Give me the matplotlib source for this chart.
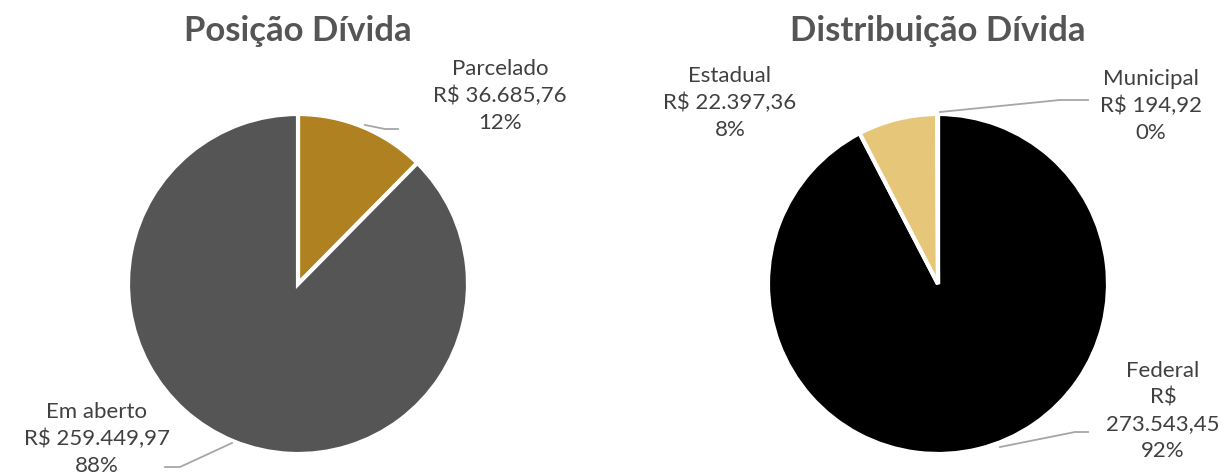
import matplotlib
matplotlib.use("Agg")
import matplotlib.pyplot as plt
import numpy as np

plt.rcParams['font.family'] = ['Lato', 'DejaVu Sans']

left_title = "Posição Dívida"
left_labels = ["Parcelado", "Em aberto"]
left_values = [36685.76, 259449.97]
left_text = ["R$ 36.685,76", "R$ 259.449,97"]
left_pct = ["12%", "88%"]
left_colors = ["#B08121", "#555555"]

right_title = "Distribuição Dívida"
right_labels = ["Federal", "Estadual", "Municipal"]
right_values = [273543.45, 22397.36, 194.92]
right_text = ["R$\n273.543,45", "R$ 22.397,36", "R$ 194,92"]
right_pct = ["92%", "8%", "0%"]
right_colors = ["#000000", "#E6C678", "#D9D9D9"]

W, H = 1229, 476
fig = plt.figure(figsize=(W/100, H/100), dpi=100)
R = 170
txtc = "#404040"

def px2data(cx, cy, x, y):
    return (x - cx) / R, (cy - y) / R

def make_pie(cx, cy, values, colors, title):
    ax = fig.add_axes([(cx - R) / W, (H - cy - R) / H, 2 * R / W, 2 * R / H])
    wedges, _ = ax.pie(values, colors=colors, startangle=90, counterclock=False,
                       radius=1, wedgeprops=dict(edgecolor="white", linewidth=3))
    ax.set_xlim(-1, 1); ax.set_ylim(-1, 1)
    ax.set_aspect("equal"); ax.axis("off")
    fig.text(cx / W, 1 - 31 / H, title, ha="center", va="center",
             fontsize=25, fontweight="bold", color="#555555")
    return ax, wedges

FS = 16
LS = 1.42

axL, wL = make_pie(298, 284, left_values, left_colors, left_title)
posL = [(500, 96), (97, 439)]
lines_L = [[(365, 125), (385, 129), (398, 129)], [(232, 443), (180, 467), (165, 467)]]
for i in range(len(left_labels)):
    x, y = px2data(298, 284, *posL[i])
    axL.text(x, y, f"{left_labels[i]}\n{left_text[i]}\n{left_pct[i]}", ha="center", va="center",
             fontsize=FS, color=txtc, linespacing=LS, clip_on=False)
    pts = [px2data(298, 284, *p) for p in lines_L[i]]
    axL.plot([p[0] for p in pts], [p[1] for p in pts], color="#A6A6A6", lw=1.3, clip_on=False)

axR, wR = make_pie(938, 284, right_values, right_colors, right_title)
posR = [(1163, 411), (730, 103), (1151, 106)]
for i in range(len(right_labels)):
    x, y = px2data(938, 284, *posR[i])
    axR.text(x, y, f"{right_labels[i]}\n{right_text[i]}\n{right_pct[i]}", ha="center", va="center",
             fontsize=FS, color=txtc, linespacing=LS, clip_on=False)
lines_R = {0: [(1000, 447), (1075, 432), (1088, 432)], 2: [(940, 112), (1060, 100), (1088, 100)]}
for i, ln in lines_R.items():
    pts = [px2data(938, 284, *p) for p in ln]
    axR.plot([p[0] for p in pts], [p[1] for p in pts], color="#A6A6A6", lw=1.3, clip_on=False)

fig.savefig("out.png", dpi=100)
